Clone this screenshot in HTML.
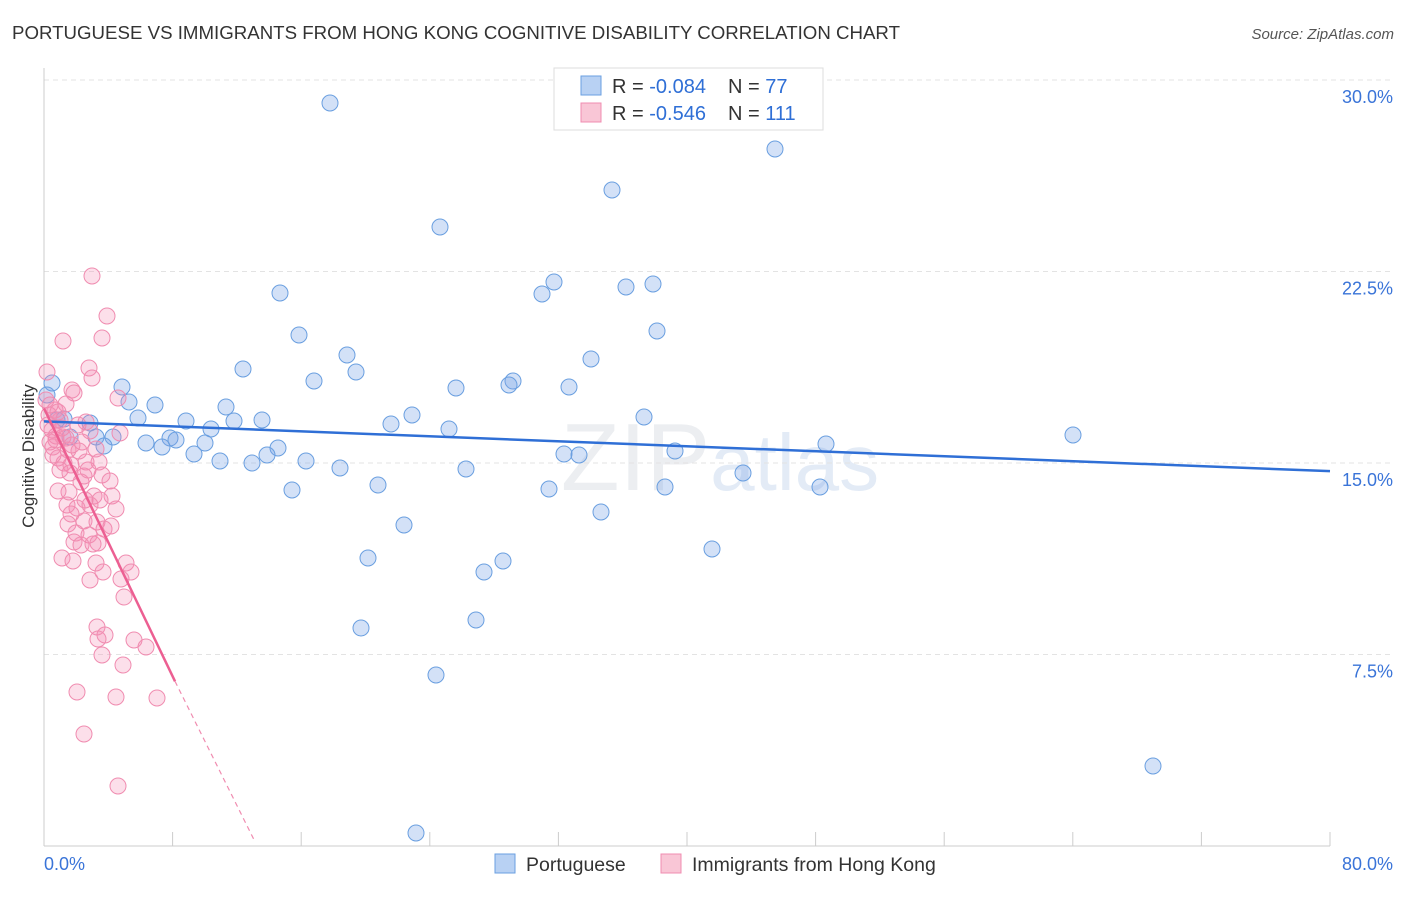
<!DOCTYPE html>
<html><head><meta charset="utf-8"><style>
body{margin:0;background:#fff;font-family:"Liberation Sans",sans-serif;}
svg text{font-family:"Liberation Sans",sans-serif;}
</style></head><body>
<svg id="c" width="1406" height="892" xmlns="http://www.w3.org/2000/svg">
<text x="12" y="39" font-size="18" fill="#333" textLength="888" lengthAdjust="spacingAndGlyphs">PORTUGUESE VS IMMIGRANTS FROM HONG KONG COGNITIVE DISABILITY CORRELATION CHART</text>
<text x="1394" y="39" font-size="15" fill="#555" font-style="italic" text-anchor="end">Source: ZipAtlas.com</text>
<text x="34" y="456" font-size="17" fill="#333" text-anchor="middle" transform="rotate(-90 34 456)">Cognitive Disability</text>
<text x="720" y="490" font-size="96" fill="#eceef1" text-anchor="middle" font-family="Liberation Serif">ZIP<tspan fill="#e3ebf6" font-family="Liberation Sans" font-size="80">atlas</tspan></text>
<g id="grid"></g><g id="pts"></g><g id="lines"></g>
<g>
<rect x="554" y="68" width="269" height="62" fill="#fff" stroke="#ddd"/>
<rect x="581" y="76" width="20" height="19" fill="#b8d1f3" stroke="#6a9fe0"/>
<rect x="581" y="103" width="20" height="19" fill="#f9c6d6" stroke="#f08cb0"/>
<text x="612" y="93" font-size="20" fill="#333">R = <tspan fill="#2f6fd6">-0.084</tspan><tspan dx="22">N = </tspan><tspan fill="#2f6fd6">77</tspan></text>
<text x="612" y="120" font-size="20" fill="#333">R = <tspan fill="#2f6fd6">-0.546</tspan><tspan dx="22">N = </tspan><tspan fill="#2f6fd6">111</tspan></text>
</g>
<g>
<rect x="495" y="854" width="20" height="19" fill="#b8d1f3" stroke="#6a9fe0"/>
<text x="526" y="871" font-size="19.5" fill="#333">Portuguese</text>
<rect x="661" y="854" width="20" height="19" fill="#f9c6d6" stroke="#f08cb0"/>
<text x="692" y="871" font-size="19.5" fill="#333">Immigrants from Hong Kong</text>
</g>
</svg>
<script>
const xTicks=[0,80];
const yTicks=[7.5,15,22.5,30];
const bluePts=[[330,103],[775,149],[612,190],[440,227],[554,282],[542,294],[626,287],[653,284],[280,293],[657,331],[299,335],[347,355],[591,359],[243,369],[356,372],[314,381],[513,381],[509,385],[456,388],[569,387],[122,387],[129,402],[155,405],[226,407],[412,415],[644,417],[186,421],[262,420],[234,421],[138,418],[64,419],[90,423],[391,424],[449,429],[211,429],[1073,435],[70,437],[96,437],[113,437],[170,438],[176,440],[205,443],[146,443],[162,447],[104,446],[826,444],[278,448],[194,454],[267,455],[564,454],[579,455],[675,451],[220,461],[252,463],[306,461],[340,468],[466,469],[743,473],[378,485],[549,489],[665,487],[820,487],[292,490],[601,512],[404,525],[712,549],[368,558],[503,561],[484,572],[476,620],[361,628],[436,675],[1153,766],[416,833],[52,383],[57,420],[47,395]].map(p=>[(p[0]-44)/1286*80,(846-p[1])/766*30]);
const pinkPts=[[92,276],[107,316],[102,338],[63,341],[89,368],[92,378],[47,372],[72,390],[74,393],[118,398],[55,410],[60,420],[49,415],[86,422],[48,425],[52,430],[56,436],[63,437],[66,438],[90,431],[120,433],[53,447],[68,450],[79,451],[96,449],[58,458],[64,463],[71,465],[86,462],[99,462],[60,470],[70,473],[84,476],[102,475],[81,482],[110,481],[69,492],[94,496],[58,491],[112,496],[67,505],[77,508],[90,505],[116,509],[71,514],[84,521],[97,522],[68,524],[104,529],[111,526],[76,533],[89,535],[74,542],[98,543],[81,545],[93,544],[62,558],[73,561],[96,563],[126,563],[103,572],[131,572],[90,580],[121,579],[124,597],[97,627],[105,635],[98,639],[134,640],[146,647],[102,655],[123,665],[77,692],[116,697],[157,698],[84,734],[118,786],[56,440],[50,442],[46,400],[50,405],[58,412],[66,404],[82,442],[88,470],[78,425],[62,428],[72,445],[53,455],[100,500],[85,500]].map(p=>[(p[0]-44)/1286*80,(846-p[1])/766*30]);
const blueTrend=[[0,16.63],[80,14.68]];
const pinkTrend=[[0,17.14],[8.15,6.45],[13.1,0.2]];
const X=v=>44+v/80*1286, Y=v=>846-v/30*766;
const NS="http://www.w3.org/2000/svg";
function mk(t,a,p){const e=document.createElementNS(NS,t);for(const k in a)e.setAttribute(k,a[k]);p.appendChild(e);return e;}
const g=document.getElementById('grid');
yTicks.forEach(t=>{const l=mk('line',{x1:44,x2:1394,y1:Y(t),y2:Y(t),stroke:'#e3e3e3','stroke-dasharray':'5,4'},g);


const tx=mk('text',{x:1393,y:Y(t)+23,'font-size':18,fill:'#3a74d8','text-anchor':'end'},g);tx.textContent=t.toFixed(1)+'%';

});
mk('line',{x1:44,x2:44,y1:68,y2:846,stroke:'#ccc'},g);
mk('line',{x1:44,x2:1330,y1:846,y2:846,stroke:'#ccc'},g);
for(let i=0;i<=10;i++){mk('line',{x1:X(i*8),x2:X(i*8),y1:832,y2:846,stroke:'#ccc'},g);}
xTicks.forEach((t,i)=>{const tx=mk('text',{x:i?1393:44,y:870,'font-size':18,fill:'#3a74d8','text-anchor':i?'end':'start'},g);tx.textContent=t.toFixed(1)+'%';

});
const pg=document.getElementById('pts');
bluePts.forEach(p=>{const c=mk('circle',{cx:X(p[0]),cy:Y(p[1]),r:8,fill:'rgba(120,165,232,0.33)',stroke:'#6a9fe0','stroke-width':1},pg);

});
pinkPts.forEach(p=>{const c=mk('circle',{cx:X(p[0]),cy:Y(p[1]),r:8,fill:'rgba(244,140,178,0.28)',stroke:'#f08cb0','stroke-width':1},pg);

});
const lg=document.getElementById('lines');
const bl=mk('line',{x1:X(blueTrend[0][0]),y1:Y(blueTrend[0][1]),x2:X(blueTrend[1][0]),y2:Y(blueTrend[1][1]),stroke:'#2f6fd6','stroke-width':2.5},lg);


const pl=mk('line',{x1:X(pinkTrend[0][0]),y1:Y(pinkTrend[0][1]),x2:X(pinkTrend[1][0]),y2:Y(pinkTrend[1][1]),stroke:'#ec5f92','stroke-width':2.5},lg);


const pd=mk('line',{x1:X(pinkTrend[1][0]),y1:Y(pinkTrend[1][1]),x2:X(pinkTrend[2][0]),y2:Y(pinkTrend[2][1]),stroke:'#f08cb0','stroke-width':1.2,'stroke-dasharray':'5,4'},lg);


</script>
</body></html>
